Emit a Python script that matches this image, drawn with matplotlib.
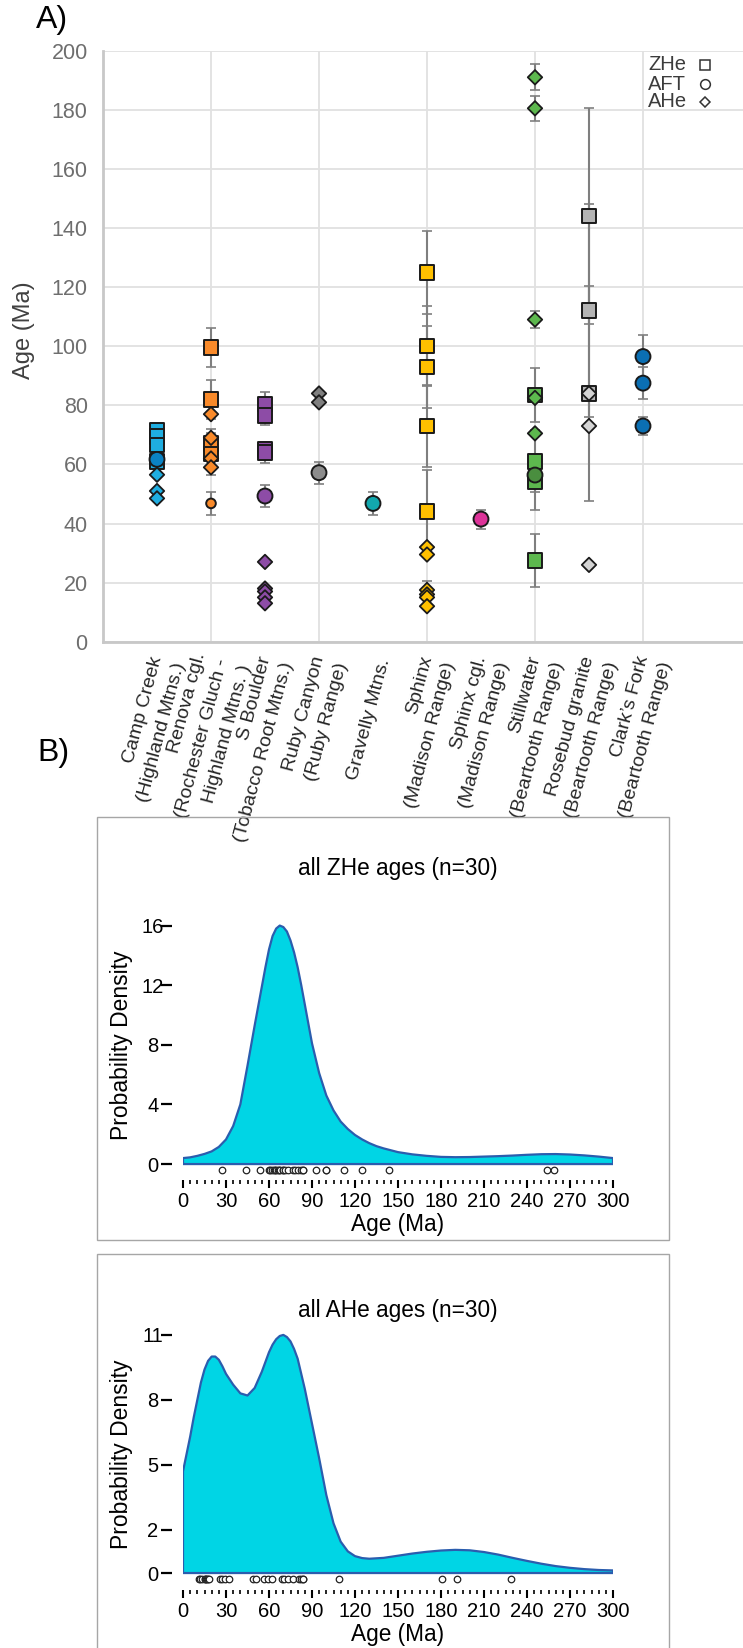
import numpy as np
import matplotlib.pyplot as plt
from matplotlib.patches import Rectangle
from matplotlib.ticker import MultipleLocator
import matplotlib.transforms as mtransforms

plt.rcParams['font.family'] = ['Liberation Sans', 'DejaVu Sans']

W, H = 743, 1648

# ---- panel A data ----
sites = ['Camp Creek\n(Highland Mtns.)',
         'Renova cgl.\n(Rochester Gluch -\nHighland Mtns. )',
         'S Boulder\n(Tobacco Root Mtns.)',
         'Ruby Canyon\n(Ruby Range)',
         'Gravelly Mtns.',
         'Sphinx\n(Madison Range)',
         'Sphinx cgl.\n(Madison Range)',
         'Stillwater\n(Beartooth Range)',
         'Rosebud granite\n(Beartooth Range)',
         'Clark\u2019s Fork\n(Beartooth Range)']

zhe_site = [0, 0, 0, 0, 1, 1, 1, 1, 2, 2, 2, 2, 5, 5, 5, 5, 5, 7, 7, 7, 7, 8, 8, 8]
zhe_age = [71.5, 69.5, 66.5, 61, 99.5, 82, 67, 63.5, 80.5, 76.5, 65, 64,
           125, 100, 93, 73, 44, 83.5, 61, 54, 27.5, 144, 112, 84]
zhe_err = [0, 0, 0, 0, 6.7, 6.5, 5, 7, 4, 3, 2.7, 3.6,
           14, 13.5, 14, 14, 14, 9, 10.5, 9.3, 9, 36.5, 36, 36.5]

aft_site = [0, 1, 2, 3, 4, 6, 7, 9, 9, 9]
aft_age = [61.7, 46.8, 49.3, 57.2, 46.8, 41.5, 56.4, 96.5, 87.5, 73]
aft_err = [0, 4, 3.6, 3.7, 3.8, 3.2, 0, 7.3, 5.5, 3]

ahe_site = [0, 0, 0, 1, 1, 1, 1, 2, 2, 2, 2, 2, 3, 3, 5, 5, 5, 5, 5, 5,
            7, 7, 7, 7, 7, 8, 8, 8]
ahe_age = [56.5, 51, 48.5, 77, 69, 62, 59, 27, 18, 17, 15, 13, 84, 81,
           32, 29.5, 17.5, 16, 15, 12, 191, 180.5, 109, 82.5, 70.5, 84, 73, 26]
ahe_err = [0, 0, 0, 0, 0, 0, 0, 0, 0, 0, 0, 0, 0, 0,
           0, 0, 3, 0, 0, 0, 4.4, 4.3, 3, 0, 0, 0, 0, 0]

# colours per site
zhe_colors = ['#1FADE0', '#F98A2A', '#8D4CA6', '#8C8C8C', '#12A8AE',
              '#FFC000', '#DD3399', '#5DB84E', '#B4B4B4', '#0B6FB3']
aft_colors = ['#0A82C4', '#F98A2A', '#8D4CA6', '#8C8C8C', '#12A8AE',
              '#FFC000', '#DD3399', '#4A8E3F', '#B4B4B4', '#0B6FB3']
ahe_colors = ['#1FADE0', '#F98A2A', '#8D4CA6', '#7F7F7F', '#12A8AE',
              '#FFC000', '#DD3399', '#5DB84E', '#D4D4D4', '#0B6FB3']
aft_small = [1]   # Renova AFT drawn smaller

# ---- panel B data ----
zhe_curve_age = [0, 5, 10, 15, 20, 25, 30, 35, 40, 45, 50, 55, 57.5, 60, 62.5, 65, 67.5,
                 70, 72.5, 75, 77.5, 80, 82.5, 85, 90, 95, 100, 105, 110, 115, 120, 125,
                 130, 135, 140, 150, 160, 170, 180, 190, 200, 210, 220, 230, 240, 250,
                 260, 270, 280, 290, 300]
zhe_curve_dens = [0.40, 0.45, 0.55, 0.68, 0.85, 1.15, 1.65, 2.55, 4.0, 6.6, 9.3, 11.9,
                  13.2, 14.4, 15.3, 15.8, 16.0, 15.9, 15.6, 15.0, 14.2, 13.2, 12.0, 10.7,
                  8.1, 6.1, 4.6, 3.6, 2.85, 2.35, 1.95, 1.65, 1.4, 1.2, 1.05, 0.8, 0.65,
                  0.55, 0.48, 0.46, 0.47, 0.5, 0.53, 0.57, 0.62, 0.66, 0.67, 0.64, 0.58,
                  0.5, 0.4]
zhe_rug = [27.5, 44, 54, 60, 61, 62, 63.5, 64, 65, 66.5, 67, 68, 69.5, 70, 71.5, 73,
           76.5, 78, 80.5, 82, 83.5, 84, 93, 99.5, 100, 112, 125, 144, 254, 259]

ahe_curve_age = [0, 2.5, 5, 7.5, 10, 12.5, 15, 17.5, 20, 22.5, 25, 27.5, 30, 35, 40, 45,
                 50, 55, 60, 62.5, 65, 67.5, 70, 72.5, 75, 77.5, 80, 85, 90, 95, 100,
                 105, 110, 115, 120, 125, 130, 140, 150, 160, 170, 180, 190, 200, 210,
                 220, 230, 240, 250, 260, 270, 280, 290, 300]
ahe_curve_dens = [4.7, 5.5, 6.3, 7.2, 8.0, 8.8, 9.4, 9.8, 10.0, 10.0, 9.85, 9.55, 9.2,
                  8.7, 8.3, 8.2, 8.55, 9.3, 10.2, 10.55, 10.8, 10.95, 11.0, 10.9, 10.7,
                  10.35, 9.9, 8.5, 6.9, 5.3, 3.6, 2.3, 1.45, 1.0, 0.78, 0.69, 0.66, 0.7,
                  0.8, 0.9, 0.98, 1.04, 1.07, 1.05, 0.97, 0.85, 0.7, 0.56, 0.43, 0.32,
                  0.24, 0.18, 0.14, 0.12]
ahe_rug = [11, 12, 13, 15, 15, 16, 17, 17.5, 18, 26, 27, 29.5, 32, 48.5, 51, 56.5, 59,
           62, 69, 70.5, 73, 77, 81, 82.5, 84, 84, 109, 180.5, 191, 229]


def px_axes(fig, left, top, right, bottom):
    return fig.add_axes([left / W, 1 - bottom / H, (right - left) / W, (bottom - top) / H])


fig = plt.figure(figsize=(W / 100, H / 100), dpi=100)

# ================= panel A =================
ax = px_axes(fig, 103, 50.7, 743, 641.7)
ax.set_xlim(0, 640 / 54)
ax.set_ylim(0, 200)
ax.set_yticks(range(0, 201, 20))
ax.set_xticks([2, 4, 6, 8, 10])
ax.grid(True, color='#E1E1E1', lw=1.3, zorder=0)
ax.tick_params(axis='x', length=0, labelbottom=False)
ax.tick_params(axis='y', length=0, labelsize=15.5, labelcolor='#6E6E6E', pad=11)
for s in ['top', 'right']:
    ax.spines[s].set_visible(False)
for s in ['left', 'bottom']:
    ax.spines[s].set_color('#C8C8C8')
    ax.spines[s].set_linewidth(2)

site_x = np.arange(1, len(sites) + 1)


def draw_errors(site, age, err):
    site, age, err = np.array(site), np.array(age), np.array(err)
    m = err > 0
    ax.errorbar(site_x[site[m]], age[m], yerr=err[m], fmt='none', ecolor='#7F7F7F',
                elinewidth=1.5, capsize=3.5, capthick=1.2, zorder=2)


draw_errors(zhe_site, zhe_age, zhe_err)
draw_errors(aft_site, aft_age, aft_err)
draw_errors(ahe_site, ahe_age, ahe_err)

ax.scatter(site_x[zhe_site], zhe_age, s=110, marker='s',
           c=[zhe_colors[i] for i in zhe_site], edgecolors='#1A1A1A', linewidths=1.4, zorder=3)
aft_s = [48 if i in aft_small else 115 for i in aft_site]
ax.scatter(site_x[aft_site], aft_age, s=aft_s, marker='o',
           c=[aft_colors[i] for i in aft_site], edgecolors='#1A1A1A', linewidths=1.4, zorder=4)
ax.scatter(site_x[ahe_site], ahe_age, s=54, marker='D',
           c=[ahe_colors[i] for i in ahe_site], edgecolors='#1A1A1A', linewidths=1.3, zorder=5)

# category labels
trans = mtransforms.blended_transform_factory(ax.transData, ax.transAxes)
for x, name in zip(site_x, sites):
    ax.text(x + 0.22, -0.03, name, transform=trans, rotation=75, rotation_mode='anchor',
            ha='right', va='center', fontsize=14, color='#262626', linespacing=1.5)

# legend
for lab, mk, ms, yy in [('ZHe', 's', 7, 0.976), ('AFT', 'o', 7, 0.9436), ('AHe', 'D', 4.6, 0.9137)]:
    ax.text(0.852, yy, lab, transform=ax.transAxes, fontsize=14.5, color='#3C3C3C',
            ha='left', va='center')
    ax.plot([0.9406], [yy], marker=mk, ms=ms, mfc='white', mec='#333333', mew=1.1,
            transform=ax.transAxes, clip_on=False, zorder=6)

fig.text(24 / W, 1 - 330 / H, 'Age (Ma)', rotation=90, fontsize=17, color='#404040',
         ha='center', va='center')
fig.text(36 / W, 1 - 20 / H, 'A)', fontsize=23, ha='left', va='center')

# ================= panel B =================
fig.text(37 / W, 1 - 753 / H, 'B)', fontsize=23, ha='left', va='center')
fig.add_artist(Rectangle((97 / W, 1 - 1240 / H), (669 - 97) / W, (1240 - 817) / H,
                         transform=fig.transFigure, fill=False, edgecolor='#A6A6A6', lw=1))
fig.add_artist(Rectangle((97 / W, -0.01), (669 - 97) / W, 1 - 1254 / H + 0.01,
                         transform=fig.transFigure, fill=False, edgecolor='#A6A6A6', lw=1))


def density_panel(axd, ages, dens, rug, yticks, ylim, title, title_y, rug_y, xoff):
    xs = [0] + list(ages) + [300]
    ys = [0] + list(dens) + [0]
    axd.fill(xs, ys, facecolor='#00D5E5', edgecolor='#2B5DAE', lw=1.6,
             joinstyle='round', zorder=2)
    axd.scatter(rug, [rug_y] * len(rug), s=22, facecolors='white', edgecolors='#222222',
                linewidths=0.9, zorder=3, clip_on=False)
    axd.set_xlim(0, 300)
    axd.set_ylim(*ylim)
    axd.set_yticks(yticks)
    axd.set_xticks(range(0, 301, 30))
    axd.xaxis.set_minor_locator(MultipleLocator(5))
    for s in ['top', 'right', 'left', 'bottom']:
        axd.spines[s].set_visible(False)
    axd.spines['left'].set_position(('outward', 7.9))
    axd.spines['bottom'].set_position(('outward', xoff))
    axd.tick_params(axis='y', length=7.9, width=1.6, labelsize=14.5, pad=6)
    for lab in axd.get_yticklabels():
        lab.set_horizontalalignment('center')
    axd.tick_params(axis='x', which='major', length=5.8, width=1.5, labelsize=14.5, pad=3)
    axd.tick_params(axis='x', which='minor', length=3.2, width=1.2)
    axd.set_xlabel('Age (Ma)', fontsize=16.3, labelpad=1)
    axd.set_ylabel('Probability Density', fontsize=16.5)
    axd.yaxis.set_label_coords(-0.116, 0.5)
    fig.text(398 / W, 1 - title_y / H, title, fontsize=16.3, ha='center', va='center')
    axd.patch.set_alpha(0)


ax1 = px_axes(fig, 183, 919.6, 613, 1171.5)
density_panel(ax1, zhe_curve_age, zhe_curve_dens, zhe_rug, [0, 4, 8, 12, 16], (-0.5, 16.4),
              'all ZHe ages (n=30)', 868, -0.38, 6.1)

ax2 = px_axes(fig, 183, 1328.4, 613, 1580.6)
density_panel(ax2, ahe_curve_age, ahe_curve_dens, ahe_rug, [0, 2, 5, 8, 11], (-0.35, 11.3),
              'all AHe ages (n=30)', 1310, -0.26, 6.8)

fig.savefig('out.png', dpi=100)
